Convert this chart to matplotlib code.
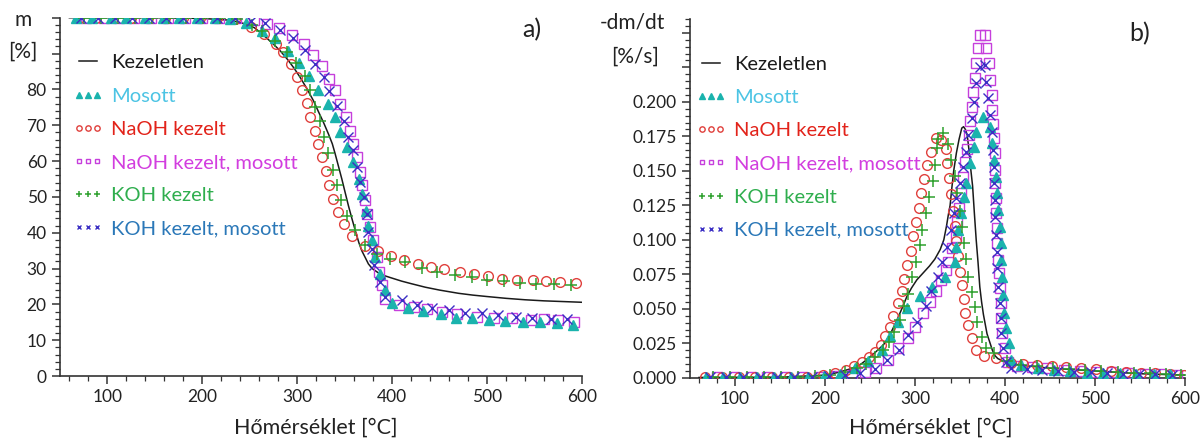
import numpy as np
import matplotlib
matplotlib.use('Agg')
from matplotlib import pyplot as plt
from matplotlib.ticker import MultipleLocator, FixedLocator, FuncFormatter

plt.rcParams['font.family'] = ['Lato', 'DejaVu Sans']

# ---- a) tömeg (m, %) ----
kez_T = [60, 150, 200, 230, 245, 255, 261, 268, 275, 282, 290, 297, 303, 310, 317, 322, 328, 333, 337, 340,
         344, 347, 351, 354, 358, 361, 365, 368, 372, 375, 379, 385, 391, 398, 410, 420, 435, 450, 470, 485,
         500, 520, 540, 560, 580, 600]
kez_m = [100, 100, 99.8, 99.3, 98.3, 97.2, 95.9, 94.3, 92.6, 90.8, 88.3, 85.8, 83.4, 80.3, 76.9, 74.0, 70.6, 67.5, 64.8, 62.0,
         58.0, 55.0, 50.7, 47.5, 43.6, 40.8, 37.2, 35.0, 32.9, 31.3, 30.0, 28.9, 28.1, 27.5, 26.5, 25.8, 24.8, 24.0, 23.1, 22.6,
         22.2, 21.7, 21.3, 21.0, 20.8, 20.6]

mos_T = [67, 84, 104, 120, 140, 159, 176, 194, 213, 229, 246, 263, 277, 290, 302, 312, 322, 332, 340, 345,
         352, 359, 365, 368, 372, 375, 379, 382, 387, 393, 400, 417, 433, 451, 467, 484, 502, 519, 538, 556, 574, 591]
mos_m = [100, 100, 100, 100, 100, 100, 100, 100, 99.9, 99.7, 98.6, 96.2, 94.3, 90.6, 87.3, 83.6, 79.9, 76.0, 72.2, 68.0,
         63.9, 59.7, 55.1, 50.9, 46.2, 42.0, 37.9, 33.2, 28.6, 24.0, 20.5, 18.9, 18.1, 17.3, 16.3, 16.1, 15.6, 15.4, 15.1, 15.1, 14.7, 14.2]

naoh_T = [70, 88, 106, 125, 143, 161, 180, 198, 216, 234, 251, 265, 278, 285, 293, 300, 305, 310, 314, 319,
          322, 326, 330, 333, 338, 343, 349, 358, 371, 385, 399, 413, 427, 441, 455, 472, 486, 501, 516, 532,
          548, 562, 577, 594]
naoh_m = [100, 100, 100, 100, 100, 100, 100, 100, 99.9, 99.6, 97.5, 95.4, 92.8, 90.3, 87.1, 83.4, 79.9, 76.1, 72.2, 68.5,
          64.8, 61.1, 57.1, 53.4, 49.5, 45.8, 42.5, 39.0, 36.2, 34.9, 33.4, 32.5, 31.4, 30.4, 29.9, 29.1, 28.4, 28.0, 27.2, 26.9,
          26.7, 26.5, 26.3, 26.0]

naohm_T = [78, 96, 112, 128, 146, 164, 182, 200, 218, 236, 254, 268, 281, 295, 307, 317, 326, 333, 340, 345,
           351, 356, 359, 363, 366, 368, 371, 373, 377, 380, 384, 386, 389, 393, 407, 423, 437, 453, 468, 489,
           507, 526, 546, 560, 575, 592]
naohm_m = [100, 100, 100, 100, 100, 100, 100, 100, 100, 99.9, 99.4, 98.2, 97.1, 95.3, 92.8, 89.7, 86.6, 82.9, 79.7, 76.0,
           72.2, 68.5, 64.8, 61.1, 56.9, 53.2, 49.0, 45.3, 41.6, 37.9, 33.2, 29.1, 25.3, 21.6, 19.8, 19.3, 18.6, 17.9, 17.3, 16.5,
           16.3, 16.2, 15.6, 15.8, 15.6, 15.2]

koh_T = [75, 93, 111, 129, 147, 165, 183, 201, 219, 237, 252, 263, 277, 289, 299, 308, 313, 319, 324, 328,
         332, 338, 342, 346, 352, 361, 371, 384, 398, 414, 431, 447, 466, 484, 500, 518, 535, 552, 571, 588]
koh_m = [100, 100, 100, 100, 100, 100, 100, 100, 99.9, 99.6, 98.0, 96.2, 93.6, 90.5, 87.5, 83.8, 79.8, 75.2, 71.1, 66.6,
         62.2, 57.6, 53.4, 49.0, 44.8, 40.7, 36.5, 34.2, 32.6, 31.7, 30.3, 29.1, 28.3, 27.7, 26.9, 26.5, 26.1, 25.8, 25.6, 25.3]

kohm_T = [72, 90, 108, 126, 144, 162, 180, 198, 216, 234, 251, 266, 282, 296, 308, 319, 328, 334, 342, 349,
          354, 359, 363, 366, 370, 373, 375, 379, 381, 387, 393, 410, 426, 442, 460, 477, 495, 512, 530, 547, 567, 584]
kohm_m = [100, 100, 100, 100, 100, 100, 100, 100, 100, 99.9, 99.2, 98.4, 96.5, 94.3, 91.0, 87.2, 83.4, 79.5, 75.5, 71.3,
          66.7, 63.0, 58.3, 54.1, 49.9, 45.3, 40.2, 35.6, 30.9, 26.3, 22.1, 21.2, 19.8, 18.9, 18.4, 17.6, 17.5, 17.0, 16.5, 16.1, 15.8, 15.8]

# ---- b) DTG (-dm/dt, %/s) ----
kez2_T = [60, 150, 200, 215, 228, 238, 246, 255, 265, 272, 280, 286, 291, 296, 302, 309, 316, 322, 328, 332,
          335, 337, 339, 341, 343, 346, 349, 352, 354, 356, 358, 360, 362, 364, 366, 368, 370, 372, 374, 376,
          378, 380, 383, 386, 389, 392, 398, 405, 420, 450, 500, 550, 600]
kez2_v = [0.0003, 0.0005, 0.002, 0.004, 0.0065, 0.009, 0.013, 0.018, 0.024, 0.031, 0.042, 0.051, 0.059, 0.065, 0.071, 0.076, 0.081, 0.086, 0.093, 0.100,
          0.110, 0.118, 0.125, 0.138, 0.150, 0.163, 0.173, 0.181, 0.182, 0.180, 0.176, 0.165, 0.151, 0.139, 0.119, 0.100, 0.084, 0.066, 0.055, 0.046,
          0.039, 0.032, 0.026, 0.020, 0.016, 0.014, 0.012, 0.0105, 0.009, 0.007, 0.005, 0.003, 0.002]

mos2_T = [68, 87, 106, 124, 143, 162, 181, 199, 217, 233, 248, 263, 272, 281, 291, 305, 319, 333, 344, 346,
          348, 351, 354, 357, 361, 365, 368, 375, 383, 386, 388, 390, 391, 392, 394, 395, 396, 397, 398, 399,
          401, 404, 407, 418, 437, 454, 472, 491, 509, 528, 546, 565, 583]
mos2_v = [0.0008, 0.0008, 0.0008, 0.0008, 0.0008, 0.0008, 0.0008, 0.0012, 0.003, 0.007, 0.0125, 0.020, 0.030, 0.0405, 0.0505, 0.059, 0.066, 0.0734, 0.0843, 0.0951,
          0.1072, 0.1193, 0.1314, 0.1415, 0.1556, 0.1676, 0.1785, 0.1893, 0.1821, 0.170, 0.158, 0.1459, 0.1338, 0.1217, 0.1096, 0.0976, 0.0855, 0.0734, 0.0601, 0.0469,
          0.036, 0.0251, 0.013, 0.009, 0.0075, 0.006, 0.0048, 0.0038, 0.0035, 0.0034, 0.003, 0.003, 0.0028]

naoh2_T = [67, 86, 104, 122, 141, 160, 180, 198, 211, 223, 232, 241, 249, 256, 262, 267, 272, 276, 281, 285,
           288, 291, 295, 298, 301, 304, 306.5, 310, 313, 318, 323, 329, 334, 336, 338, 340, 342, 344, 346, 348,
           350, 352, 354, 356, 359, 363, 368, 377, 390, 407, 420, 435, 452, 468, 484, 501, 518, 534, 551, 567, 583, 599]
naoh2_v = [0.0006, 0.0006, 0.0005, 0.0005, 0.0005, 0.0006, 0.0008, 0.0018, 0.0035, 0.006, 0.0088, 0.0115, 0.015, 0.019, 0.024, 0.030, 0.037, 0.045, 0.054, 0.063,
           0.072, 0.082, 0.092, 0.103, 0.113, 0.123, 0.134, 0.144, 0.154, 0.164, 0.174, 0.172, 0.166, 0.156, 0.145, 0.133, 0.121, 0.110, 0.099, 0.088,
           0.077, 0.067, 0.057, 0.047, 0.038, 0.029, 0.020, 0.016, 0.0143, 0.011, 0.0101, 0.0094, 0.0087, 0.0078, 0.007, 0.0063, 0.0053, 0.0046, 0.0038, 0.0034, 0.0029, 0.0022]

naohm2_T = [80, 99, 118, 136, 155, 174, 193, 212, 230, 244, 257, 270, 281, 292, 300, 309, 316.5, 323, 329, 334,
            337, 341, 345, 347, 348.5, 351, 353.5, 355.5, 358, 360, 361.5, 363, 364.6, 366.5, 368.3, 370, 372, 377.6, 379.4, 382.4,
            383.2, 385, 386, 387, 387.6, 388.4, 388.7, 389, 389.8, 390.4, 390.7, 391.3, 392.4, 393.5, 394.2, 395, 396, 397.2, 399.8, 403.5,
            413, 430, 447, 465, 483, 501, 519, 537, 555, 573, 591]
naohm2_v = [0.0005, 0.0005, 0.0005, 0.0004, 0.0004, 0.0005, 0.0007, 0.0012, 0.0022, 0.0045, 0.007, 0.013, 0.0215, 0.0288, 0.0372, 0.0469, 0.0553, 0.063, 0.071, 0.078,
            0.0843, 0.094, 0.1024, 0.113, 0.123, 0.1338, 0.1459, 0.1567, 0.166, 0.1761, 0.186, 0.1966, 0.2075, 0.2172, 0.228, 0.2389, 0.2486, 0.2486, 0.2389, 0.228,
            0.216, 0.205, 0.1942, 0.184, 0.1737, 0.1628, 0.1507, 0.141, 0.1302, 0.1193, 0.1085, 0.0976, 0.0855, 0.0759, 0.065, 0.0541, 0.0433, 0.0324, 0.0215, 0.0118,
            0.0085, 0.008, 0.007, 0.006, 0.0052, 0.0045, 0.004, 0.0035, 0.003, 0.0026, 0.0023]

koh2_T = [75, 94, 113, 132, 151, 170, 189, 205, 222, 236, 246, 255, 264, 271, 277, 283, 288, 292, 297, 301,
          305, 308, 312, 316, 319.5, 322, 324, 326, 331, 337, 340.5, 344, 347, 349.5, 352, 354, 356.5, 359, 363, 366.5,
          369, 374, 379, 388, 402, 418, 435, 453, 471, 489, 507, 525, 543, 561, 579, 596]
koh2_v = [0.0006, 0.0006, 0.0006, 0.0006, 0.0006, 0.0007, 0.001, 0.002, 0.004, 0.007, 0.010, 0.015, 0.020, 0.026, 0.033, 0.042, 0.052, 0.061, 0.0734, 0.0843,
          0.0964, 0.1072, 0.1193, 0.1314, 0.1423, 0.1543, 0.1664, 0.173, 0.1773, 0.1696, 0.158, 0.146, 0.134, 0.121, 0.109, 0.098, 0.086, 0.0734, 0.0625, 0.0517,
          0.0408, 0.0299, 0.0215, 0.018, 0.012, 0.0095, 0.0085, 0.0075, 0.0065, 0.0058, 0.005, 0.0043, 0.0038, 0.0033, 0.0028, 0.0024]

kohm2_T = [72, 90, 109, 128, 147, 166, 185, 204, 222, 239, 256, 269, 282, 292, 302, 312, 318, 325, 330, 335,
           340.5, 343, 346, 350, 353.5, 356.5, 359, 362.8, 365.3, 368.3, 372, 377.6, 378.7, 381.3, 383.1, 385, 386.8, 388, 388.2, 388.7,
           389, 389.8, 390.6, 391.3, 392.4, 394.2, 395, 396.1, 397.8, 400.9, 407, 424, 441, 459, 477, 495, 513, 531, 549, 567, 585]
kohm2_v = [0.0006, 0.0006, 0.0005, 0.0005, 0.0005, 0.0005, 0.0006, 0.001, 0.002, 0.0034, 0.0063, 0.013, 0.0203, 0.0312, 0.0408, 0.052, 0.063, 0.0734, 0.084, 0.0951,
           0.1072, 0.1193, 0.1302, 0.141, 0.1531, 0.164, 0.1761, 0.1882, 0.2002, 0.2135, 0.2256, 0.2268, 0.2147, 0.2027, 0.1906, 0.1785, 0.1652, 0.1531, 0.141, 0.129,
           0.1169, 0.1036, 0.0915, 0.0795, 0.0662, 0.0541, 0.0433, 0.0324, 0.0215, 0.0118, 0.007, 0.0065, 0.006, 0.0052, 0.0045, 0.004, 0.0035, 0.003, 0.0028, 0.0025, 0.0022]

labels = ['Kezeletlen', 'Mosott', 'NaOH kezelt', 'NaOH kezelt, mosott', 'KOH kezelt', 'KOH kezelt, mosott']
text_colors = ['#1a1a1a', '#4cc4e4', '#e2231a', '#d23ddf', '#2fae4e', '#2b78b8']

fig = plt.figure(figsize=(12, 4.43), dpi=100)
ax1 = fig.add_axes([0.0499, 0.151, 0.4351, 0.809])
ax2 = fig.add_axes([0.575, 0.147, 0.4125, 0.810])


def draw(ax, series):
    (kT, kv), (mT, mv), (nT, nv), (nmT, nmv), (kkT, kkv), (kmT, kmv) = series
    h0, = ax.plot(kT, kv, color='#1a1a1a', lw=1.1, zorder=3)
    h3, = ax.plot(nmT, nmv, ls='none', marker='s', ms=6.5, mfc='none', mec='#c63fdc', mew=1.0, zorder=4)
    h2, = ax.plot(nT, nv, ls='none', marker='o', ms=7, mfc='none', mec='#e0403c', mew=1.0, zorder=4)
    h1, = ax.plot(mT, mv, ls='none', marker='^', ms=7, color='#1ab3ad', mec='#1ab3ad', zorder=5)
    h4, = ax.plot(kkT, kkv, ls='none', marker='+', ms=8.5, color='#2ea02e', mew=1.1, zorder=6)
    h5, = ax.plot(kmT, kmv, ls='none', marker='x', ms=6.5, color='#3b2fc4', mew=1.0, zorder=6)
    return [h0, h1, h2, h3, h4, h5]


hs1 = draw(ax1, [(kez_T, kez_m), (mos_T, mos_m), (naoh_T, naoh_m), (naohm_T, naohm_m), (koh_T, koh_m), (kohm_T, kohm_m)])
hs2 = draw(ax2, [(kez2_T, kez2_v), (mos2_T, mos2_v), (naoh2_T, naoh2_v), (naohm2_T, naohm2_v), (koh2_T, koh2_v), (kohm2_T, kohm2_v)])

for ax in (ax1, ax2):
    ax.set_xlim(50, 600)
    for s in ('top', 'right'):
        ax.spines[s].set_visible(False)
    for s in ('left', 'bottom'):
        ax.spines[s].set_color('#333333')
        ax.spines[s].set_linewidth(1.2)
    ax.xaxis.set_major_locator(FixedLocator([100, 200, 300, 400, 500, 600]))
    ax.xaxis.set_minor_locator(MultipleLocator(20))
    ax.tick_params(which='major', direction='out', length=6, width=1.1, color='#333333', labelsize=12.5, labelcolor='#222222')
    ax.tick_params(which='minor', direction='out', length=3.5, width=0.9, color='#333333')

ax1.set_ylim(0, 100)
ax1.yaxis.set_major_locator(MultipleLocator(10))
ax1.yaxis.set_minor_locator(MultipleLocator(2))
ax1.yaxis.set_major_formatter(FuncFormatter(lambda v, p: '%d' % v if v <= 80.5 else ''))

ax2.set_ylim(0, 0.26)
ax2.yaxis.set_major_locator(MultipleLocator(0.025))
ax2.yaxis.set_minor_locator(MultipleLocator(0.005))
ax2.yaxis.set_major_formatter(FuncFormatter(lambda v, p: '%.3f' % v if v <= 0.2001 else ''))

for ax, hs, anchor in ((ax1, hs1, (0.025, 0.898)), (ax2, hs2, (0.012, 0.898))):
    leg = ax.legend(hs, labels, loc='upper left', bbox_to_anchor=anchor, frameon=False, fontsize=14.5,
                    numpoints=3, markerscale=0.55, handlelength=1.5, handletextpad=0.4,
                    labelspacing=0.8, borderpad=0, borderaxespad=0)
    for t, c in zip(leg.get_texts(), text_colors):
        t.set_color(c)

fig.text(0.019, 0.955, 'm', ha='center', va='center', fontsize=15, color='#222222')
fig.text(0.019, 0.883, '[%]', ha='center', va='center', fontsize=15, color='#222222')
fig.text(0.527, 0.950, '-dm/dt', ha='center', va='center', fontsize=15, color='#222222')
fig.text(0.529, 0.871, '[%/s]', ha='center', va='center', fontsize=15, color='#222222')
fig.text(0.443, 0.932, 'a)', ha='center', va='center', fontsize=18, color='#222222')
fig.text(0.950, 0.925, 'b)', ha='center', va='center', fontsize=18, color='#222222')
fig.text(0.263, 0.034, 'Hőmérséklet [°C]', ha='center', va='center', fontsize=15.5, color='#222222')
fig.text(0.776, 0.034, 'Hőmérséklet [°C]', ha='center', va='center', fontsize=15.5, color='#222222')

fig.savefig('out.png', dpi=100)
